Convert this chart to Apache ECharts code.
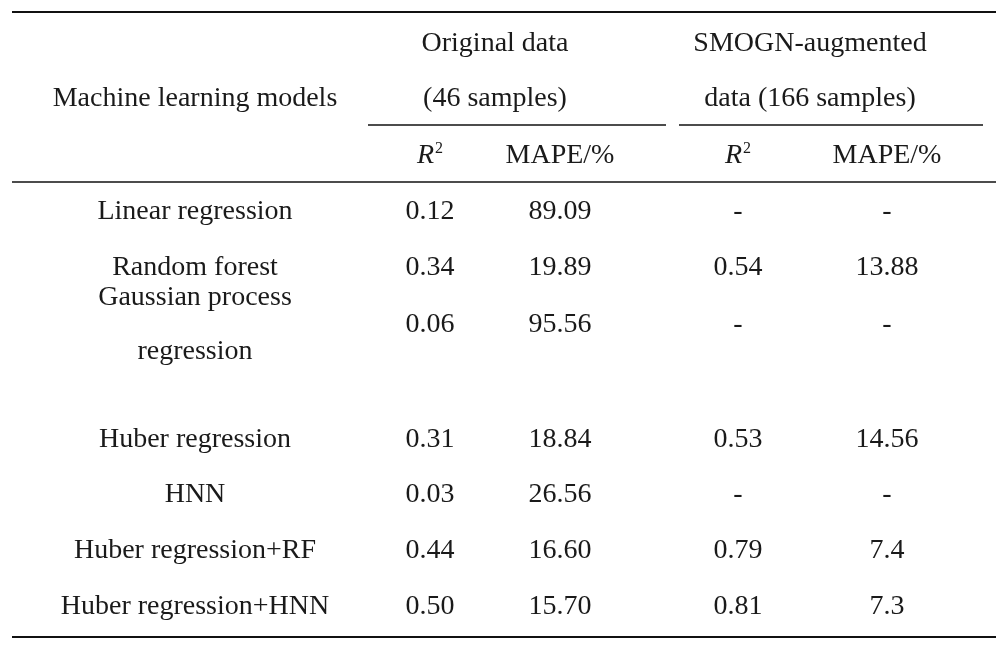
<!DOCTYPE html>
<html>
<head>
<meta charset="utf-8">
<script src="https://cdn.jsdelivr.net/npm/echarts@6/dist/echarts.min.js"></script>
<style>html,body{margin:0;background:#fff}#chart{width:1008px;height:654px}</style>
</head>
<body>
<div id="chart"></div>
<script>
// table content
const models = ['Linear regression', 'Random forest', 'Gaussian process\nregression', 'Huber regression', 'HNN', 'Huber regression+RF', 'Huber regression+HNN'];
const origR2 = ['0.12', '0.34', '0.06', '0.31', '0.03', '0.44', '0.50'];
const origMape = ['89.09', '19.89', '95.56', '18.84', '26.56', '16.60', '15.70'];
const smognR2 = ['-', '0.54', '-', '0.53', '-', '0.79', '0.81'];
const smognMape = ['-', '13.88', '-', '14.56', '-', '7.4', '7.3'];
const groupHeaders = ['Original data\n(46 samples)', 'SMOGN-augmented\ndata (166 samples)'];
const subHeaders = ['R2', 'MAPE/%', 'R2', 'MAPE/%'];

const colX = [195, 430, 560, 738, 887];
const rowY = [212, 268, 325, 440, 495, 551, 607];
const font = '"Liberation Serif", "DejaVu Serif", serif';
const fs = 28;

const els = [];
function text(x, y, s, extra) {
  els.push({type: 'text', x: x, y: y, style: Object.assign({
    text: s, fill: '#1a1a1a', font: fs + 'px ' + font,
    textAlign: 'center', textVerticalAlign: 'middle', lineHeight: 55
  }, extra || {})});
}
function line(x1, y, x2, w) {
  els.push({type: 'line', shape: {x1: x1, y1: y, x2: x2, y2: y}, style: {stroke: '#111', lineWidth: w}});
}

line(12, 12, 996, 2);
line(368, 125, 666, 1.3);
line(679, 125, 983, 1.3);
line(12, 182, 996, 1.3);
line(12, 637, 996, 2);

text(colX[0], 99, 'Machine learning models');
text(495, 71, groupHeaders[0]);
text(810, 71, groupHeaders[1]);

subHeaders.forEach((h, i) => {
  if (h === 'R2') {
    els.push({type: 'text', x: colX[i + 1], y: 156, style: {
      text: '{i|R}{s|2}', textAlign: 'center', textVerticalAlign: 'middle',
      rich: {
        i: {fontFamily: font, fontSize: fs, fontStyle: 'italic', fill: '#1a1a1a'},
        s: {fontFamily: font, fontSize: 16, fill: '#1a1a1a', verticalAlign: 'top', padding: [0, 0, 14, 1]}
      }
    }});
  } else {
    text(colX[i + 1], 156, h);
  }
});

models.forEach((m, r) => {
  const y = rowY[r];
  text(colX[0], y, m, {lineHeight: 54});
  [origR2, origMape, smognR2, smognMape].forEach((arr, c) => text(colX[c + 1], y, arr[r]));
});

const chart = echarts.init(document.getElementById('chart'));
chart.setOption({graphic: {elements: els}});
</script>
</body>
</html>
